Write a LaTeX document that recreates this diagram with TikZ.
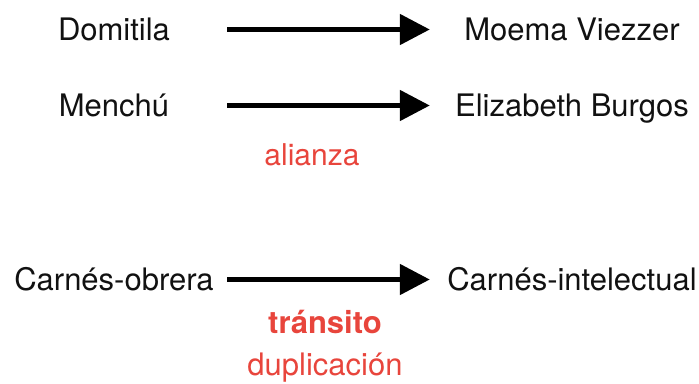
\documentclass[tikz,border=0pt]{standalone}
\usepackage{fontspec}
\setmainfont{TeX Gyre Heros}
\usepackage{xcolor}
\usepackage{tikz}
\usetikzlibrary{arrows.meta, positioning}
\definecolor{cNAME}{HTML}{111111}
\definecolor{cREL}{HTML}{E8453C}

\begin{document}
\begin{tikzpicture}[x=1pt, y=-1pt,
  font=\fontsize{31}{36}\selectfont,
  who/.style={anchor=base, text=cNAME, text height=24pt, text depth=3pt, inner sep=0pt},
  src/.style={who, minimum width=220pt},
  dst/.style={who, minimum width=284pt},
  rel/.style={anchor=base, text=cREL, inner sep=0pt},
  link/.style={line width=5pt, shorten <=3pt,
    -{Triangle[length=30pt, width=30pt]}},
]
\useasboundingbox (0,0) rectangle (699,383);

% pairs
\node[src] (domitila) at (114,40)  {Domitila};
\node[dst] (moema)    at (572,40)  {Moema Viezzer};
\node[src] (menchu)   at (114,116) {Menchú};
\node[dst] (burgos)   at (572,116) {Elizabeth Burgos};
\node[src] (obrera)   at (114,290) {Carnés-obrera};
\node[dst] (intelect) at (572,290) {Carnés-intelectual};

\draw[link] (domitila) -- (moema);
\draw[link] (menchu) -- (burgos);
\draw[link] (obrera) -- (intelect);

% relations
\node[rel, font=\fontsize{30}{36}\selectfont] (alianza) at (312,165) {alianza};
\node[rel, font=\fontsize{31}{36}\selectfont\bfseries] (transito) at (325,333) {tránsito};
\node[rel] (duplicacion) at (325,375) {duplicación};
\end{tikzpicture}
\end{document}
